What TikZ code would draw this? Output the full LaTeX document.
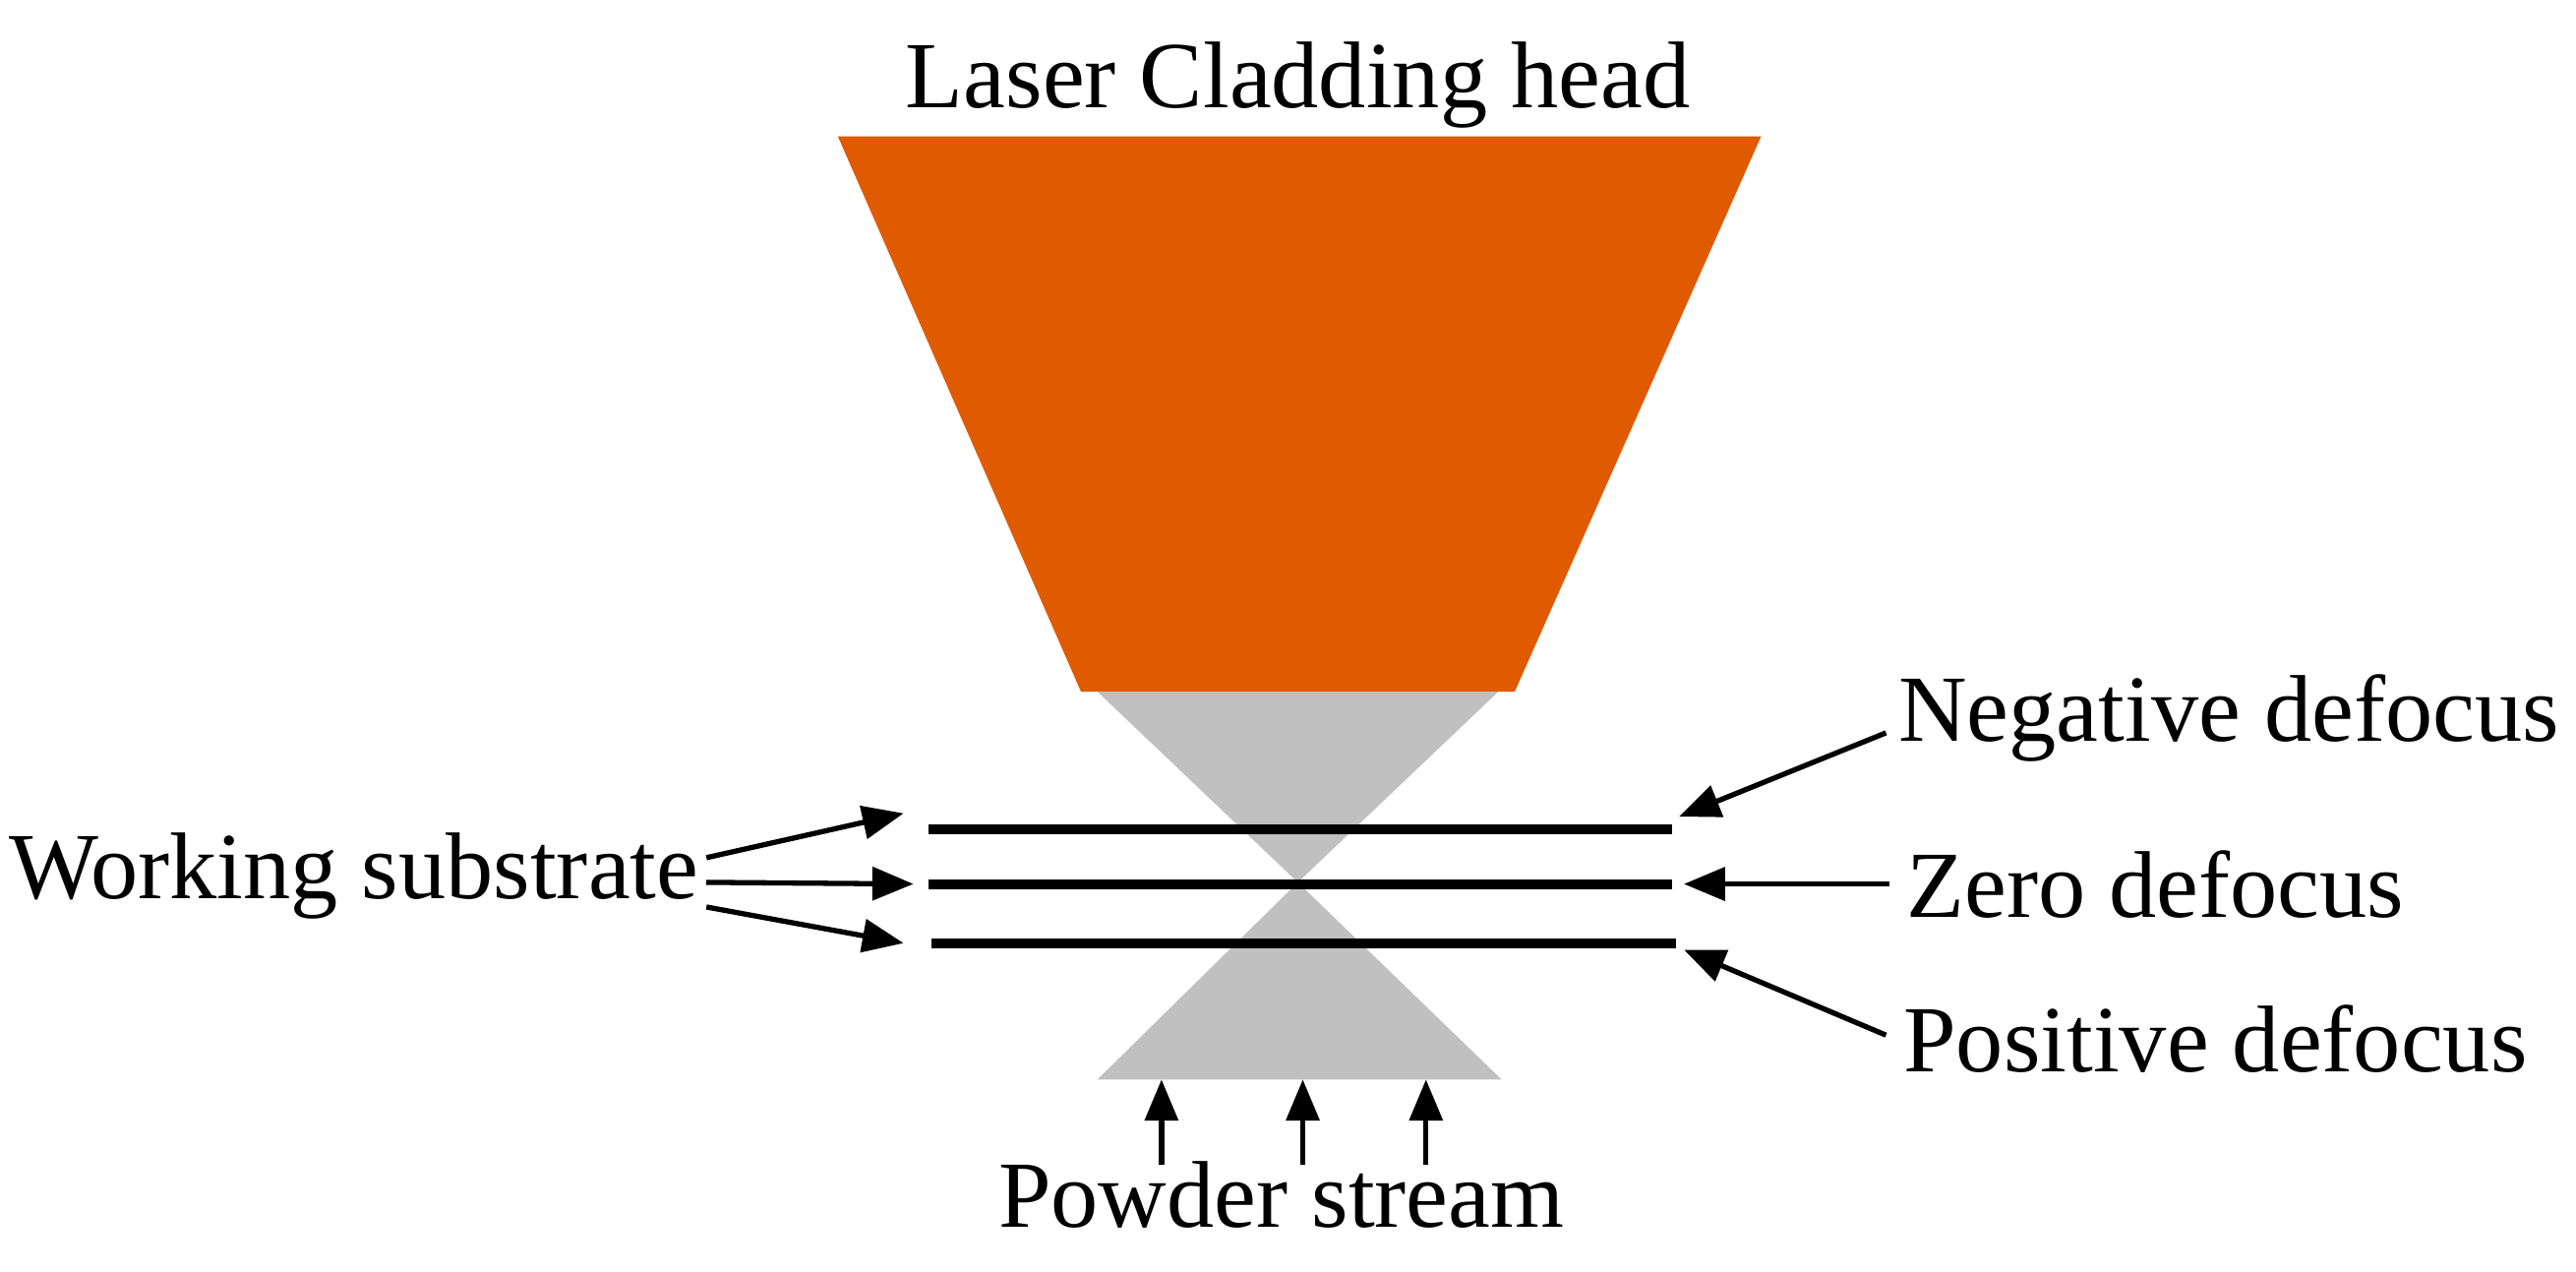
\documentclass[tikz,border=0pt]{standalone}
\usepackage{fontspec}
\setmainfont{Liberation Serif}
\usetikzlibrary{arrows.meta}
\definecolor{head}{HTML}{E05A00}
\definecolor{beam}{HTML}{C0C0C0}
\begin{document}
\begin{tikzpicture}[x=0.01cm,y=-0.01cm,
  lbl/.style={font=\fontsize{16.4}{19}\selectfont, inner sep=0pt},
  arr/.style={line width=0.9pt,-{Triangle[length=0.25cm,width=0.2cm]}},
  sub/.style={line width=1.7pt}]
\useasboundingbox (0,0) rectangle (1568,774);
\fill[head] (510,83) -- (1072,83) -- (922,421) -- (658,421) -- cycle;
\fill[beam] (668,421) -- (912,421) -- (790,537) -- cycle;
\fill[beam] (668,657) -- (914,657) -- (790,537) -- cycle;
\coordinate (l1a) at (565,505); \coordinate (l1b) at (1018,505);
\coordinate (l2a) at (565,538); \coordinate (l2b) at (1018,538);
\coordinate (l3a) at (567,574); \coordinate (l3b) at (1020,574);
\draw[sub] (l1a) -- (l1b); \draw[sub] (l2a) -- (l2b); \draw[sub] (l3a) -- (l3b);
\node[lbl] (title) at (790,52) {Laser Cladding head};
\node[lbl,anchor=east] (ws) at (426,533) {Working substrate};
\node[lbl,anchor=west] (neg) at (1155,437) {Negative defocus};
\node[lbl,anchor=west] (zero) at (1160,538) {Zero defocus};
\node[lbl,anchor=west] (pos) at (1158,632) {Positive defocus};
\node[lbl] (pw) at (780,727) {Powder stream};
\coordinate (w1) at (430,522); \coordinate (w2) at (430,537); \coordinate (w3) at (430,552);
\coordinate (a1) at (550,495); \coordinate (a2) at (556,538); \coordinate (a3) at (550,574);
\draw[arr] (w1) -- (a1); \draw[arr] (w2) -- (a2); \draw[arr] (w3) -- (a3);
\coordinate (n0) at (1148,446); \coordinate (n1) at (1022,497);
\coordinate (z0) at (1150,538); \coordinate (z1) at (1025,538);
\coordinate (p0) at (1148,630); \coordinate (p1) at (1025,578);
\draw[arr] (n0) -- (n1); \draw[arr] (z0) -- (z1); \draw[arr] (p0) -- (p1);
\foreach \x [count=\i] in {707,793,868}{
  \coordinate (s\i) at (\x,709); \coordinate (t\i) at (\x,657);
  \draw[arr] (s\i) -- (t\i);}
\end{tikzpicture}
\end{document}
